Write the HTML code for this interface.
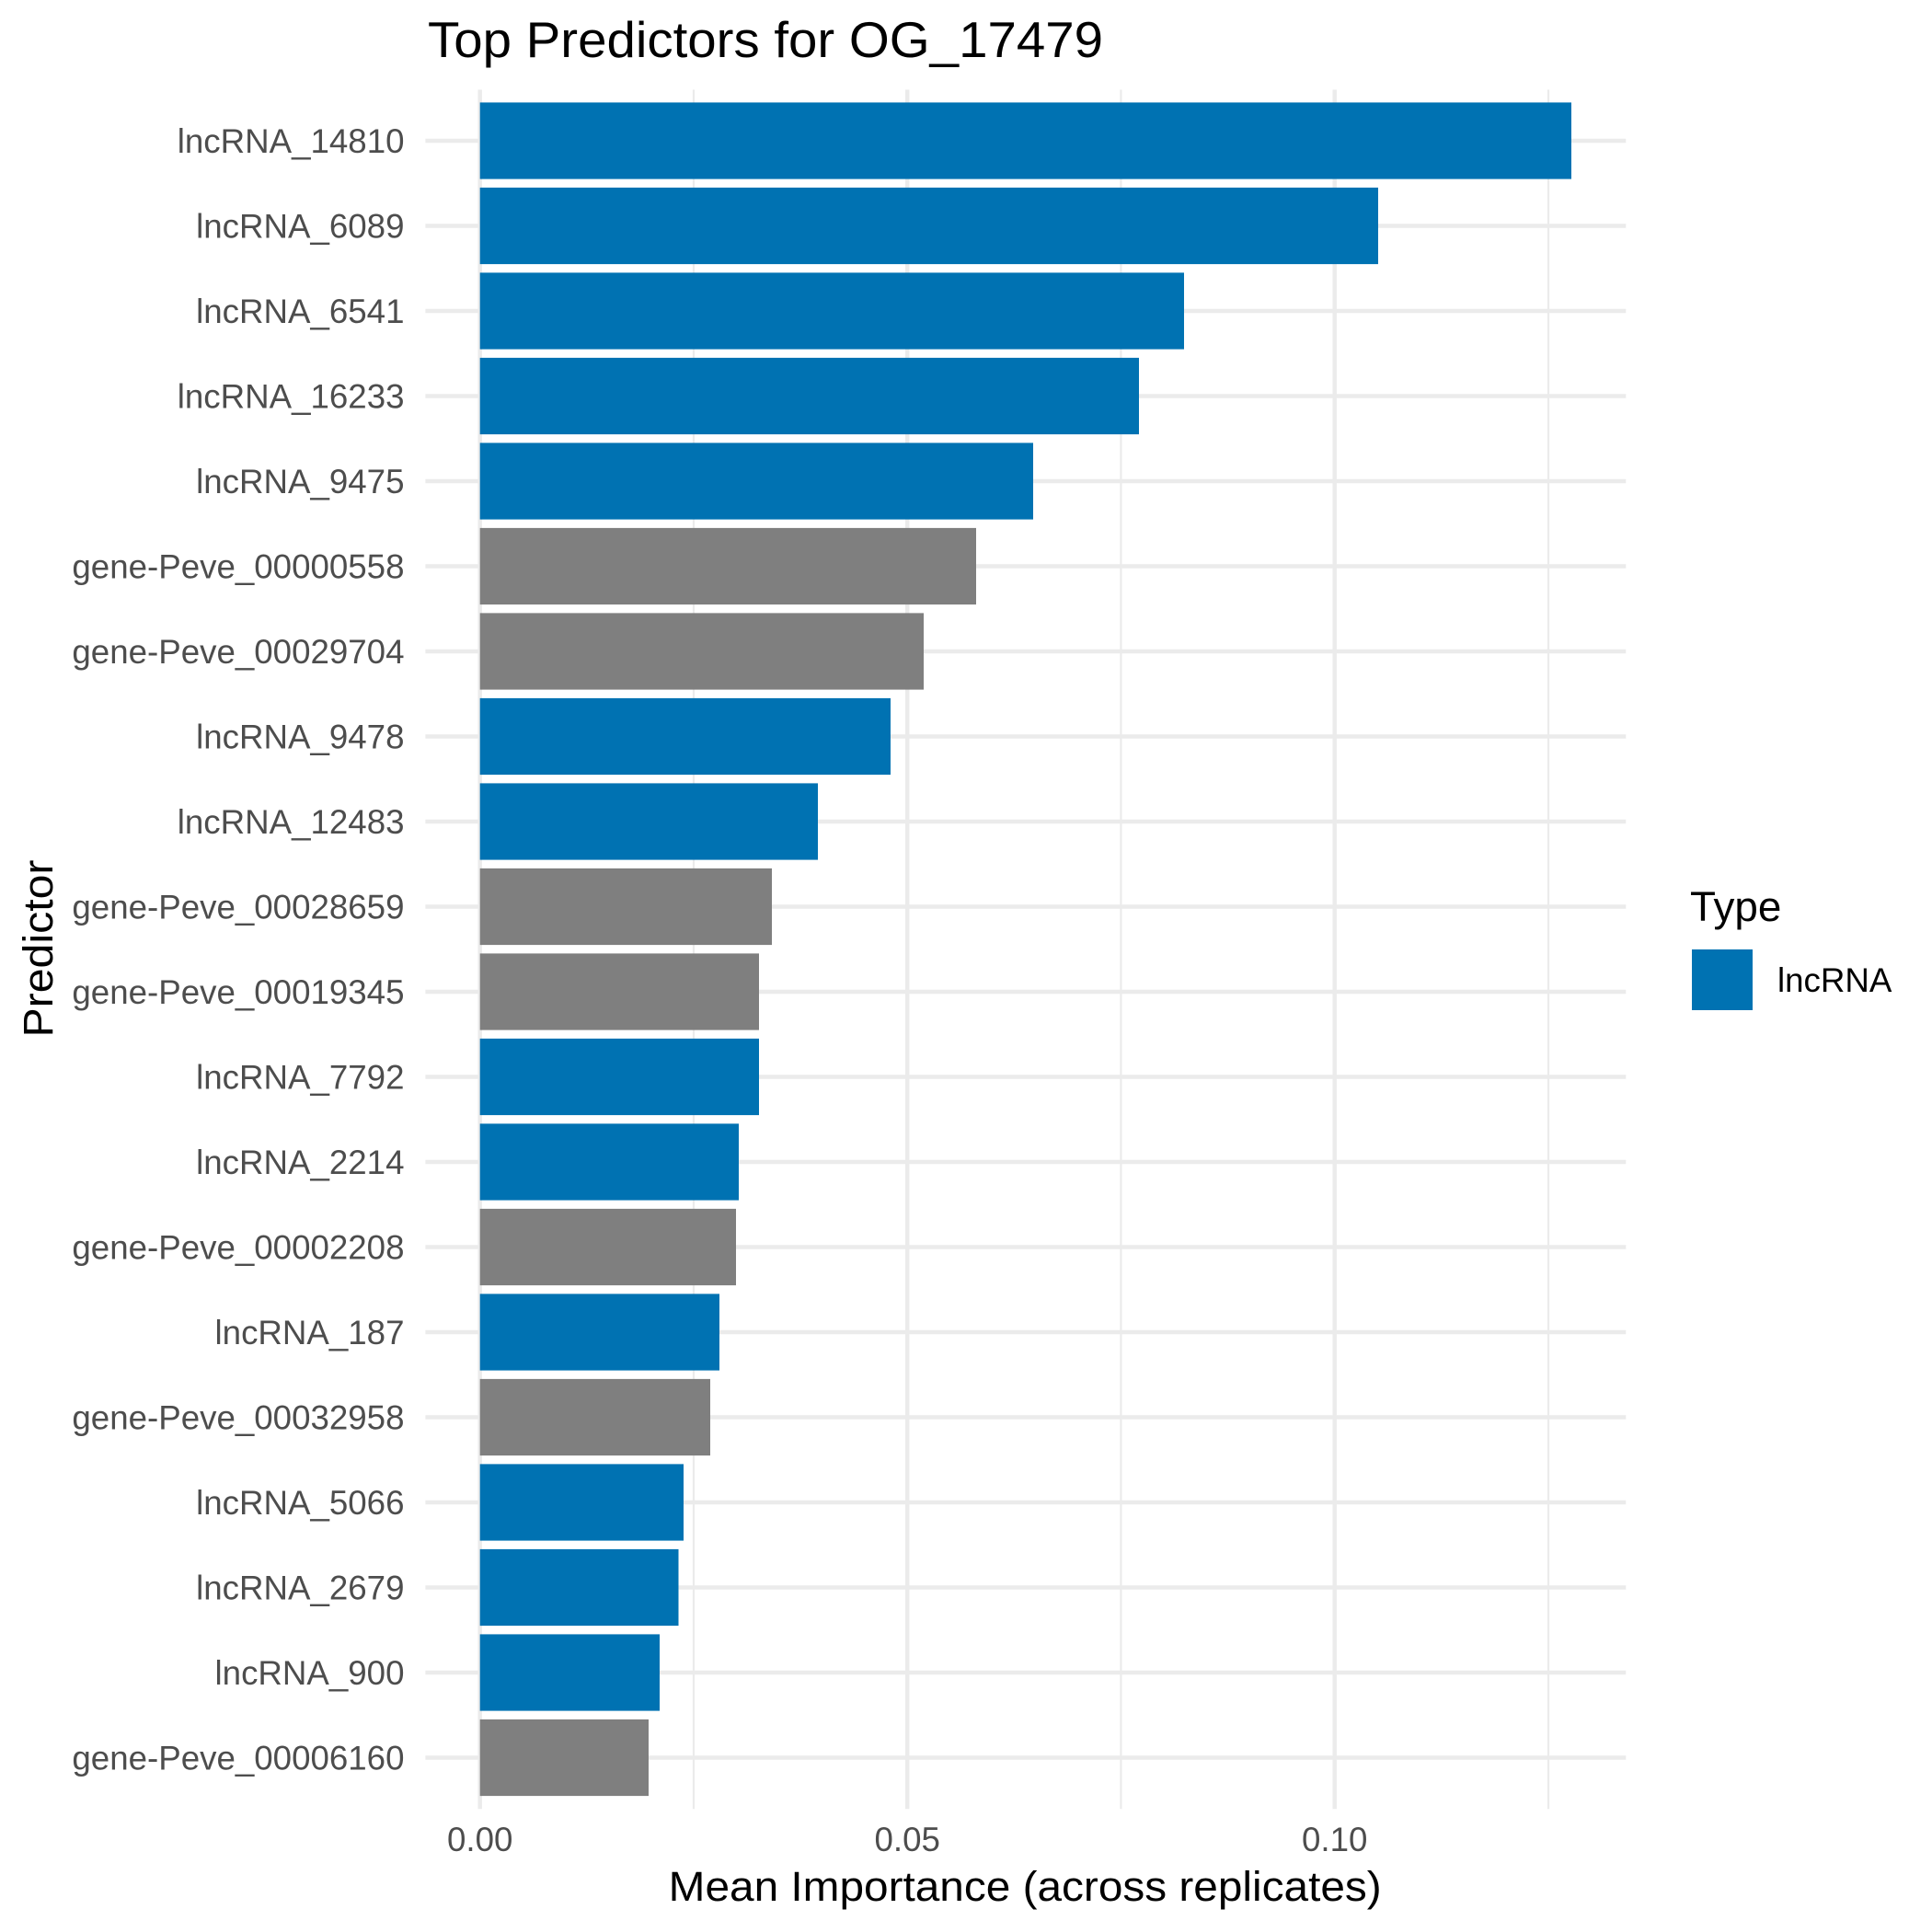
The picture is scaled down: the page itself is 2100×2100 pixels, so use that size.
<!DOCTYPE html>
<html>
<head>
<meta charset="utf-8">
<style>
  html, body { margin: 0; padding: 0; background: #ffffff; }
  svg { display: block; }
  text { font-family: "Liberation Sans", "DejaVu Sans", sans-serif; }
</style>
</head>
<body>
<svg width="2100" height="2100" viewBox="0 0 2100 2100" xmlns="http://www.w3.org/2000/svg">
  <rect x="0" y="0" width="2100" height="2100" fill="#ffffff"/>

  <!-- minor vertical gridlines -->
  <g stroke="#EBEBEB" stroke-width="2.22">
    <line x1="754" y1="97.5" x2="754" y2="1966.2"/>
    <line x1="1218.4" y1="97.5" x2="1218.4" y2="1966.2"/>
    <line x1="1683" y1="97.5" x2="1683" y2="1966.2"/>
  </g>
  <!-- major vertical gridlines -->
  <g stroke="#EBEBEB" stroke-width="4.44">
    <line x1="521.7" y1="97.5" x2="521.7" y2="1966.2"/>
    <line x1="986.2" y1="97.5" x2="986.2" y2="1966.2"/>
    <line x1="1450.7" y1="97.5" x2="1450.7" y2="1966.2"/>
  </g>
  <!-- major horizontal gridlines -->
  <g stroke="#EBEBEB" stroke-width="4.44">
    <line x1="462.4" y1="153" x2="1767.3" y2="153"/>
    <line x1="462.4" y1="245.5" x2="1767.3" y2="245.5"/>
    <line x1="462.4" y1="338" x2="1767.3" y2="338"/>
    <line x1="462.4" y1="430.5" x2="1767.3" y2="430.5"/>
    <line x1="462.4" y1="523" x2="1767.3" y2="523"/>
    <line x1="462.4" y1="615.5" x2="1767.3" y2="615.5"/>
    <line x1="462.4" y1="708" x2="1767.3" y2="708"/>
    <line x1="462.4" y1="800.5" x2="1767.3" y2="800.5"/>
    <line x1="462.4" y1="893" x2="1767.3" y2="893"/>
    <line x1="462.4" y1="985.5" x2="1767.3" y2="985.5"/>
    <line x1="462.4" y1="1078" x2="1767.3" y2="1078"/>
    <line x1="462.4" y1="1170.5" x2="1767.3" y2="1170.5"/>
    <line x1="462.4" y1="1263" x2="1767.3" y2="1263"/>
    <line x1="462.4" y1="1355.5" x2="1767.3" y2="1355.5"/>
    <line x1="462.4" y1="1448" x2="1767.3" y2="1448"/>
    <line x1="462.4" y1="1540.5" x2="1767.3" y2="1540.5"/>
    <line x1="462.4" y1="1633" x2="1767.3" y2="1633"/>
    <line x1="462.4" y1="1725.5" x2="1767.3" y2="1725.5"/>
    <line x1="462.4" y1="1818" x2="1767.3" y2="1818"/>
    <line x1="462.4" y1="1910.5" x2="1767.3" y2="1910.5"/>
  </g>

  <!-- bars -->
  <g>
    <rect x="521.7" y="111.4" width="1186.3" height="83.2" fill="#0072B2"/>
    <rect x="521.7" y="203.9" width="976.3" height="83.2" fill="#0072B2"/>
    <rect x="521.7" y="296.4" width="765.3" height="83.2" fill="#0072B2"/>
    <rect x="521.7" y="388.9" width="716.3" height="83.2" fill="#0072B2"/>
    <rect x="521.7" y="481.4" width="601.3" height="83.2" fill="#0072B2"/>
    <rect x="521.7" y="573.9" width="539.3" height="83.2" fill="#7F7F7F"/>
    <rect x="521.7" y="666.4" width="482.3" height="83.2" fill="#7F7F7F"/>
    <rect x="521.7" y="758.9" width="446.3" height="83.2" fill="#0072B2"/>
    <rect x="521.7" y="851.4" width="367.3" height="83.2" fill="#0072B2"/>
    <rect x="521.7" y="943.9" width="317.3" height="83.2" fill="#7F7F7F"/>
    <rect x="521.7" y="1036.4" width="303.3" height="83.2" fill="#7F7F7F"/>
    <rect x="521.7" y="1128.9" width="303.3" height="83.2" fill="#0072B2"/>
    <rect x="521.7" y="1221.4" width="281.3" height="83.2" fill="#0072B2"/>
    <rect x="521.7" y="1313.9" width="278.3" height="83.2" fill="#7F7F7F"/>
    <rect x="521.7" y="1406.4" width="260.3" height="83.2" fill="#0072B2"/>
    <rect x="521.7" y="1498.9" width="250.3" height="83.2" fill="#7F7F7F"/>
    <rect x="521.7" y="1591.4" width="221.3" height="83.2" fill="#0072B2"/>
    <rect x="521.7" y="1683.9" width="215.8" height="83.2" fill="#0072B2"/>
    <rect x="521.7" y="1776.4" width="195.3" height="83.2" fill="#0072B2"/>
    <rect x="521.7" y="1868.9" width="183.3" height="83.2" fill="#7F7F7F"/>
  </g>

  <!-- y tick labels -->
  <g font-size="36.7" fill="#4D4D4D" text-anchor="end">
    <text x="439.5" y="166">lncRNA_14810</text>
    <text x="439.5" y="258.5">lncRNA_6089</text>
    <text x="439.5" y="351">lncRNA_6541</text>
    <text x="439.5" y="443.5">lncRNA_16233</text>
    <text x="439.5" y="536">lncRNA_9475</text>
    <text x="439.5" y="628.5">gene-Peve_00000558</text>
    <text x="439.5" y="721">gene-Peve_00029704</text>
    <text x="439.5" y="813.5">lncRNA_9478</text>
    <text x="439.5" y="906">lncRNA_12483</text>
    <text x="439.5" y="998.5">gene-Peve_00028659</text>
    <text x="439.5" y="1091">gene-Peve_00019345</text>
    <text x="439.5" y="1183.5">lncRNA_7792</text>
    <text x="439.5" y="1276">lncRNA_2214</text>
    <text x="439.5" y="1368.5">gene-Peve_00002208</text>
    <text x="439.5" y="1461">lncRNA_187</text>
    <text x="439.5" y="1553.5">gene-Peve_00032958</text>
    <text x="439.5" y="1646">lncRNA_5066</text>
    <text x="439.5" y="1738.5">lncRNA_2679</text>
    <text x="439.5" y="1831">lncRNA_900</text>
    <text x="439.5" y="1923.5">gene-Peve_00006160</text>
  </g>

  <!-- x tick labels -->
  <g font-size="36.7" fill="#4D4D4D" text-anchor="middle">
    <text x="521.7" y="2012">0.00</text>
    <text x="986.2" y="2012">0.05</text>
    <text x="1450.7" y="2012">0.10</text>
  </g>

  <!-- axis titles -->
  <text x="726.7" y="2066" font-size="45.8" fill="#000000" textLength="775" lengthAdjust="spacingAndGlyphs">Mean Importance (across replicates)</text>
  <text x="0" y="0" font-size="45.8" fill="#000000" text-anchor="middle" transform="translate(57,1031) rotate(-90)" textLength="193" lengthAdjust="spacingAndGlyphs">Predictor</text>

  <!-- plot title -->
  <text x="465" y="62" font-size="55" fill="#000000" textLength="734" lengthAdjust="spacingAndGlyphs">Top Predictors for OG_17479</text>

  <!-- legend -->
  <text x="1837" y="1001" font-size="45.8" fill="#000000">Type</text>
  <rect x="1839" y="1032" width="66" height="66" fill="#0072B2"/>
  <text x="1932" y="1078" font-size="36.7" fill="#000000">lncRNA</text>
</svg>
</body>
</html>
